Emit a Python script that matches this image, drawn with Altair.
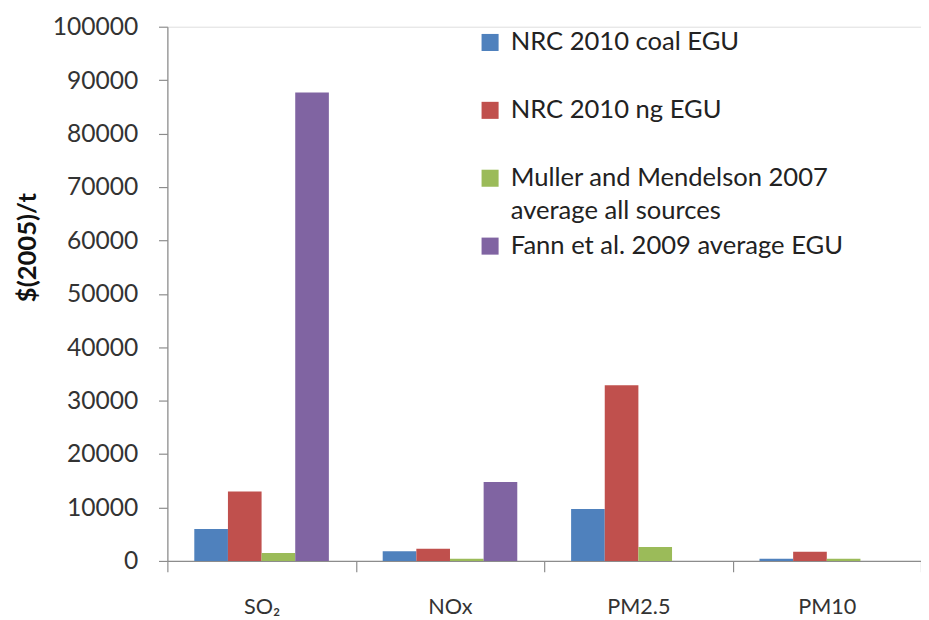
import altair as alt
import pandas as pd

categories = ["SO₂", "NOx", "PM2.5", "PM10"]
series = ["NRC 2010 coal EGU", "NRC 2010 ng EGU",
          "Muller and Mendelson 2007 average all sources",
          "Fann et al. 2009 average EGU"]
coal = [6000, 1800, 9700, 400]
ng = [13000, 2300, 32900, 1700]
muller = [1500, 400, 2600, 400]
fann = [87700, 14800, 0, 0]
colors = ["#4F81BD", "#C0504D", "#9BBB59", "#8064A2"]

rows = []
for vals, s in zip([coal, ng, muller, fann], series):
    for c, v in zip(categories, vals):
        rows.append({"pollutant": c, "series": s, "value": v})
df = pd.DataFrame(rows)

FONT = "Lato"

label_expr = (
    "datum.label == 'Muller and Mendelson 2007 average all sources' "
    "? ['Muller and Mendelson 2007', 'average all sources'] "
    ": [datum.label, ' ']"
)

chart = alt.Chart(df).mark_bar().encode(
    x=alt.X("pollutant:N", sort=categories, title=None,
            scale=alt.Scale(paddingInner=0, paddingOuter=0),
            axis=alt.Axis(labelAngle=0, tickBand="extent", tickSize=11,
                          labelPadding=25, labelFontSize=22, labelColor="#333333",
                          labelFont=FONT, domainColor="#8c8c8c", tickColor="#8c8c8c",
                          domainWidth=1.2, tickWidth=1.2)),
    xOffset=alt.XOffset("series:N", sort=series,
                        scale=alt.Scale(paddingInner=0, paddingOuter=0.8)),
    y=alt.Y("value:Q", title="$(2005)/t",
            scale=alt.Scale(domain=[0, 100000], nice=False),
            axis=alt.Axis(values=list(range(0, 100001, 10000)), grid=False,
                          format="d",
                          tickSize=9, labelPadding=21, labelFontSize=25,
                          labelColor="#333333", labelFont=FONT,
                          domainColor="#8c8c8c", tickColor="#8c8c8c",
                          domainWidth=1.2, tickWidth=1.2,
                          titleFont=FONT, titleFontSize=26, titleFontWeight="bold",
                          titleColor="#111111", titleX=-142, titleY=224,
                          titleAlign="center", titleBaseline="middle")),
    color=alt.Color("series:N", sort=series,
                    scale=alt.Scale(domain=series, range=colors),
                    legend=alt.Legend(
                        title=None, orient="none", legendX=315, legendY=3,
                        symbolType="square", symbolSize=300, symbolStrokeWidth=0,
                        labelFont=FONT, labelFontSize=26, labelColor="#222222",
                        rowPadding=10, labelLimit=500, labelOffset=8,
                        labelExpr=label_expr)),
).properties(
    width=766, height=543,
    autosize=alt.AutoSizeParams(type="none"),
    padding={"left": 162, "top": 14, "right": 0, "bottom": 55},
).configure_view(stroke=None).configure(
    style={"guide-label": {"lineHeight": 33}}
)

chart.save("out.html", embed_options={"renderer": "svg", "actions": False})
